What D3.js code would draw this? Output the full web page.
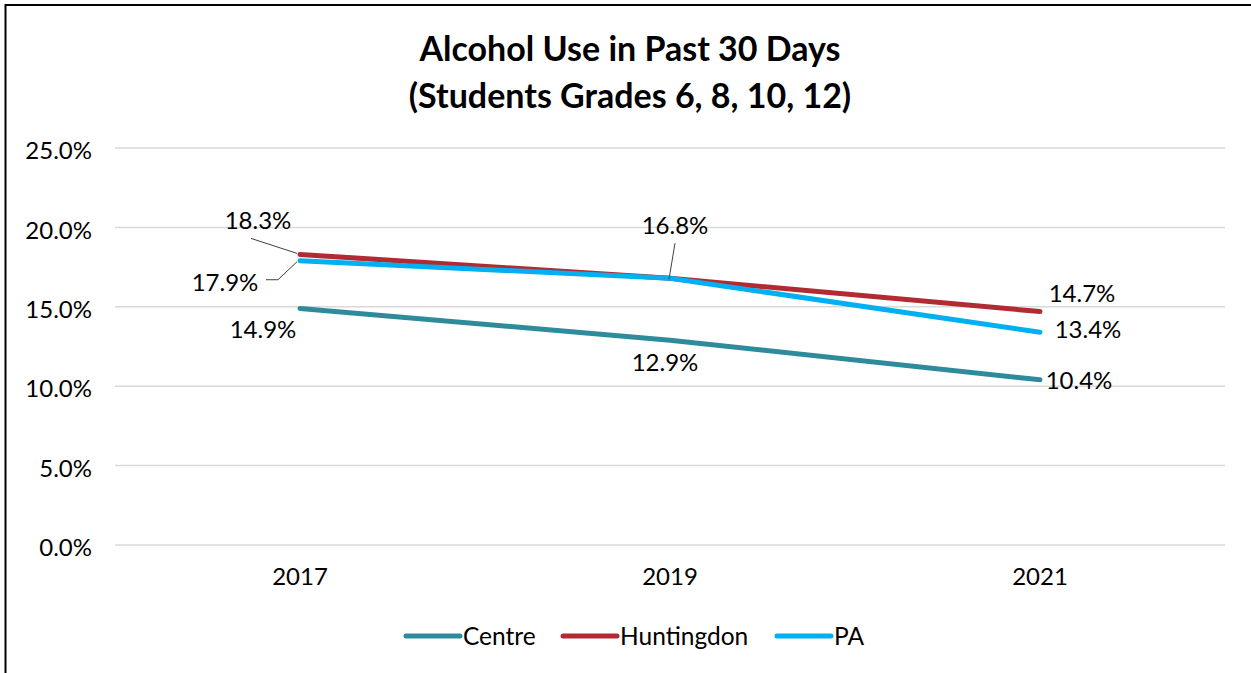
<!DOCTYPE html>
<html>
<head>
<meta charset="utf-8">
<script src="https://cdn.jsdelivr.net/npm/d3@7"></script>
<style>
  html, body { margin: 0; padding: 0; background: #fff; }
  svg { display: block; font-family: Lato, "Open Sans", "Liberation Sans", sans-serif; }
</style>
</head>
<body>
<svg id="chart" width="1251" height="673"></svg>
<script>
// Survey years and percentage of students reporting alcohol use
const years = ["2017", "2019", "2021"];
const centre = [14.9, 12.9, 10.4];
const huntingdon = [18.3, 16.8, 14.7];
const pa = [17.9, 16.8, 13.4];
const yTicks = [0, 5, 10, 15, 20, 25];
const titleLines = ["Alcohol Use in Past 30 Days", "(Students Grades 6, 8, 10, 12)"];

const series = [
  { name: "Centre", values: centre, color: "#2E8B9B" },
  { name: "Huntingdon", values: huntingdon, color: "#B22A32" },
  { name: "PA", values: pa, color: "#00B0F0" }
];

const svg = d3.select("#chart");
const W = 1251, H = 673;
const FONT = "Lato, 'Open Sans', sans-serif";
const TEXT_SHIFT = 3; // optical centring of text on its anchor

// Outer frame (left and top edges visible)
svg.append("line").attr("x1", 5.5).attr("x2", 5.5).attr("y1", 4).attr("y2", H)
  .attr("stroke", "#000").attr("stroke-width", 2);
svg.append("line").attr("x1", 5).attr("x2", W).attr("y1", 5).attr("y2", 5)
  .attr("stroke", "#000").attr("stroke-width", 2);

// Title
svg.append("g").selectAll("text").data(titleLines).join("text")
  .attr("x", 630).attr("y", (d, i) => 52 + i * 47)
  .attr("text-anchor", "middle").attr("dominant-baseline", "middle")
  .attr("font-size", 34).attr("font-weight", "bold").attr("fill", "#000")
  .text(d => d);

const x = d3.scaleBand().domain(years).range([115, 1225]);
const y = d3.scaleLinear().domain([0, 25]).range([545, 148]);

// Gridlines
svg.append("g").selectAll("line").data(yTicks).join("line")
  .attr("x1", 115).attr("x2", 1225)
  .attr("y1", d => y(d)).attr("y2", d => y(d))
  .attr("stroke", "#d9d9d9").attr("stroke-width", 1.5);

// Y axis labels
const yAxis = d3.axisLeft(y).tickValues(yTicks).tickFormat(d => d.toFixed(1) + "%").tickSize(0).tickPadding(0);
svg.append("g").attr("transform", `translate(92,${TEXT_SHIFT})`).call(yAxis)
  .call(g => g.select(".domain").remove())
  .call(g => g.selectAll("text").attr("font-size", 24).attr("fill", "#000").attr("font-family", FONT));

// X axis labels
const xAxis = d3.axisBottom(x).tickSize(0).tickPadding(0);
svg.append("g").attr("transform", "translate(0,568)").call(xAxis)
  .call(g => g.select(".domain").remove())
  .call(g => g.selectAll("text").attr("font-size", 24).attr("fill", "#000").attr("font-family", FONT));

const cx = d => x(d) + x.bandwidth() / 2;
const line = d3.line().x((d, i) => cx(years[i])).y(d => y(d));

// Series lines (Centre, Huntingdon, then PA on top)
svg.append("g").selectAll("path").data(series).join("path")
  .attr("d", s => line(s.values))
  .attr("fill", "none")
  .attr("stroke", s => s.color)
  .attr("stroke-width", 5)
  .attr("stroke-linecap", "round")
  .attr("stroke-linejoin", "round");

// Data labels: offsets relative to each point
const labelOffsets = {
  Centre: [[-37, 21], [-5, 22], [39, 0]],
  Huntingdon: [[-42, -34], [5, -53], [42, -19]],
  PA: [[-75, 21], [0, 0], [48, -3]]
};
const fmt = v => v.toFixed(1) + "%";
const labels = svg.append("g").attr("font-size", 24).attr("fill", "#000");
series.forEach(s => {
  s.values.forEach((v, i) => {
    if (s.name === "PA" && i === 1) return; // shares the 16.8% label with Huntingdon
    const [dx, dy] = labelOffsets[s.name][i];
    labels.append("text")
      .attr("x", cx(years[i]) + dx)
      .attr("y", y(v) + dy + TEXT_SHIFT)
      .attr("text-anchor", "middle")
      .attr("dominant-baseline", "middle")
      .text(fmt(v));
  });
});

// Leader lines from displaced labels to their points
const leader = svg.append("g").attr("stroke", "#404040").attr("stroke-width", 1).attr("fill", "none");
const p17 = cx("2017"), p19 = cx("2019");
leader.append("path").attr("d", `M${p17 - 49},${y(huntingdon[0]) - 16} L${p17 - 3},${y(huntingdon[0]) - 1}`);
leader.append("path").attr("d", `M${p17 - 34},${y(pa[0]) + 19} L${p17 - 22},${y(pa[0]) + 19} L${p17 - 3},${y(pa[0]) + 1}`);
leader.append("path").attr("d", `M${p19 + 5},${y(huntingdon[1]) - 35} L${p19 - 1},${y(huntingdon[1]) + 1}`);

// Legend
const legendItems = [
  { s: series[0], x: 404 },
  { s: series[1], x: 561 },
  { s: series[2], x: 775 }
];
const lg = svg.append("g");
legendItems.forEach(d => {
  lg.append("line").attr("x1", d.x + 2).attr("x2", d.x + 56).attr("y1", 636).attr("y2", 636)
    .attr("stroke", d.s.color).attr("stroke-width", 5).attr("stroke-linecap", "round");
  lg.append("text").attr("x", d.x + 59).attr("y", 636 + TEXT_SHIFT).attr("dominant-baseline", "middle")
    .attr("font-size", 24.5).attr("fill", "#000").text(d.s.name);
});
</script>
</body>
</html>
